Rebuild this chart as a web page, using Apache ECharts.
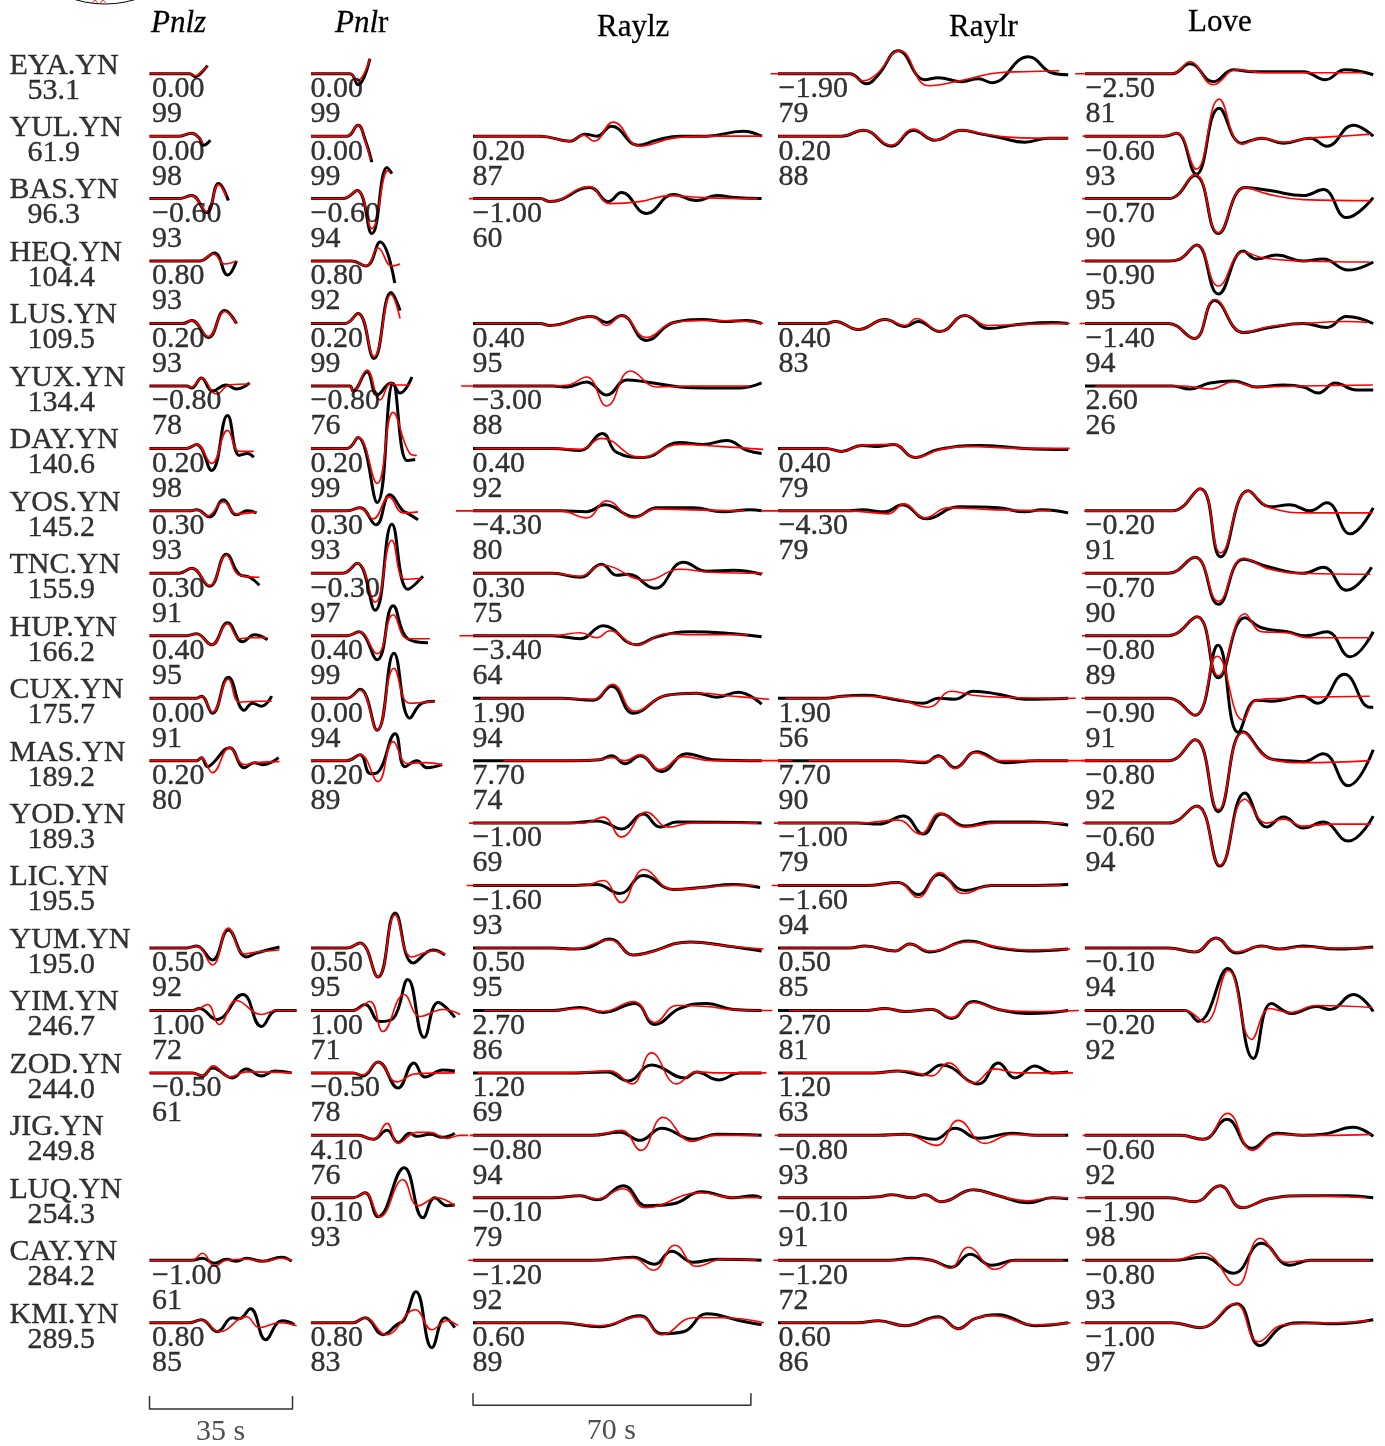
<!DOCTYPE html>
<html>
<head>
<meta charset="utf-8">
<script src="https://cdn.jsdelivr.net/npm/echarts@6/dist/echarts.min.js"></script>
<style>
  html, body { margin: 0; padding: 0; background: #fff; }
  #chart { width: 1385px; height: 1446px; }
</style>
</head>
<body>
<div id="chart"></div>
<script>
// ---- stations (epicentral distance, km) ----
const stations = ['EYA.YN','YUL.YN','BAS.YN','HEQ.YN','LUS.YN','YUX.YN','DAY.YN','YOS.YN','TNC.YN','HUP.YN',
  'CUX.YN','MAS.YN','YOD.YN','LIC.YN','YUM.YN','YIM.YN','ZOD.YN','JIG.YN','LUQ.YN','CAY.YN','KMI.YN'];
const distances = [53.1,61.9,96.3,104.4,109.5,134.4,140.6,145.2,155.9,166.2,175.7,189.2,189.3,195.5,195.0,246.7,244.0,249.8,254.3,284.2,289.5];

// ---- time shift (s) and cross-correlation (%) per component ----
const pnlzShift = [0.00,0.00,-0.60,0.80,0.20,-0.80,0.20,0.30,0.30,0.40,0.00,0.20,null,null,0.50,1.00,-0.50,null,null,-1.00,0.80];
const pnlzCorr  = [99,98,93,93,93,78,98,93,91,95,91,80,null,null,92,72,61,null,null,61,85];
const pnlrShift = [0.00,0.00,-0.60,0.80,0.20,-0.80,0.20,0.30,-0.30,0.40,0.00,0.20,null,null,0.50,1.00,-0.50,4.10,0.10,null,0.80];
const pnlrCorr  = [99,99,94,92,99,76,99,93,97,99,94,89,null,null,95,71,78,76,93,null,83];
const raylzShift = [null,0.20,-1.00,null,0.40,-3.00,0.40,-4.30,0.30,-3.40,1.90,7.70,-1.00,-1.60,0.50,2.70,1.20,-0.80,-0.10,-1.20,0.60];
const raylzCorr  = [null,87,60,null,95,88,92,80,75,64,94,74,69,93,95,86,69,94,79,92,89];
const raylrShift = [-1.90,0.20,null,null,0.40,null,0.40,-4.30,null,null,1.90,7.70,-1.00,-1.60,0.50,2.70,1.20,-0.80,-0.10,-1.20,0.60];
const raylrCorr  = [79,88,null,null,83,null,79,79,null,null,56,90,79,94,85,81,63,93,91,72,86];
const loveShift = [-2.50,-0.60,-0.70,-0.90,-1.40,2.60,null,-0.20,-0.70,-0.80,-0.90,-0.80,-0.60,null,-0.10,-0.20,null,-0.60,-1.90,-0.80,-1.00];
const loveCorr  = [81,93,90,95,94,26,null,91,90,89,91,92,94,null,94,92,null,92,98,93,97];

// ---- waveforms: [time s, amplitude] samples, observed (obs) and synthetic (syn) ----
const pnlzObs = [
  [[0,0],[9.8,0],[11.3,-3],[12.7,1],[14.2,8]],
  [[0,0],[7.3,0],[10.3,3],[12.2,-2],[13.2,-9],[14.9,-4]],
  [[0,0],[7.3,0],[10.3,3],[14.0,-14],[16.9,15],[19.3,-2]],
  [[0,0],[12.2,0],[15.9,8],[19.1,-14],[21.3,0]],
  [[0,0],[8.1,0],[10.3,3],[14.4,-14],[18.4,13],[21.3,0]],
  [[0,0],[9.1,0],[10.3,-2],[12.7,8],[15.4,-5],[18.8,1],[21.3,-3],[24.5,3]],
  [[0,0],[9.1,0],[11.5,4],[15.2,-22],[19.1,33],[22.0,-7],[24.0,-5],[25.5,-9]],
  [[0,0],[9.8,0],[11.5,1],[14.7,-6],[18.1,11],[21.3,-4],[24.0,0],[26.2,-2]],
  [[0,0],[7.3,0],[10.3,5],[14.7,-13],[18.8,19],[22.0,-1],[24.5,-4],[26.9,-12]],
  [[0,0],[9.1,0],[11.5,2],[15.2,-9],[19.1,13],[22.8,-6],[25.7,1],[28.9,-4]],
  [[0,0],[11.5,0],[12.7,2],[15.4,-15],[19.3,21],[23.2,-12],[25.2,-5],[27.4,-8],[29.9,2]],
  [[0,0],[11.5,0],[12.7,3],[14.2,-6],[15.4,-3],[19.6,13],[23.2,-7],[25.7,-2],[27.7,-4],[31.6,3]],
  null,
  null,
  [[0,0],[9.1,0],[11.5,2],[15.4,-12],[19.3,18],[23.7,-9],[26.2,-5],[31.8,1]],
  [[0,0],[10.5,0],[12.2,2],[16.4,-9],[22.8,16],[27.4,-16],[31.1,0],[36.0,0]],
  [[0,0],[10.5,0],[13.0,-3],[15.4,5],[20.3,-5],[23.7,4],[27.4,-3],[30.6,2],[34.8,0]],
  null,
  null,
  [[0,0],[10.3,0],[13.0,2],[15.9,-3],[18.8,1],[21.3,-1],[23.7,2],[27.7,-1],[32.3,3],[34.8,-1]],
  [[0,0],[9.8,0],[12.7,3],[16.6,-9],[20.3,5],[22.0,4],[24.7,14],[28.4,-17],[31.3,0],[32.5,2],[35.5,-2]]
];
const pnlzSyn = [
  [[0,0],[9.8,0],[11.3,-2],[12.7,2],[14.2,7]],
  [[0,0],[7.3,0],[10.3,3],[12.2,-2],[13.2,-8]],
  [[0,0],[7.3,0],[10.3,3],[14.0,-13],[16.9,14],[18.8,2]],
  [[0,0],[12.2,0],[15.6,7],[18.4,-3],[21.3,0]],
  [[0,0],[8.1,0],[10.3,3],[14.4,-13],[18.4,12],[21.3,0]],
  [[0,0],[9.1,0],[10.3,-1],[12.7,8],[16.4,-8],[19.6,1],[24.5,2]],
  [[0,0],[9.1,0],[11.5,4],[15.2,-15],[19.1,18],[22.0,-3],[25.5,-3]],
  [[0,0],[9.8,0],[11.5,1],[14.2,-5],[18.1,9],[21.3,-3],[26.2,-1]],
  [[0,0],[7.3,0],[10.3,5],[14.7,-12],[18.8,18],[22.0,-2],[26.9,-4]],
  [[0,0],[9.1,0],[11.5,2],[15.2,-9],[19.1,12],[22.0,-3],[24.5,-2],[28.9,-2]],
  [[0,0],[11.5,0],[12.7,2],[15.4,-14],[19.3,19],[22.0,-4],[26.0,-3],[29.9,-3]],
  [[0,0],[11.5,0],[12.7,3],[15.4,-12],[19.6,13],[23.2,-4],[26.0,-2],[31.8,-1]],
  null,
  null,
  [[0,0],[9.1,0],[11.5,2],[15.4,-17],[19.3,20],[23.2,-6],[26.2,-4],[31.8,-2]],
  [[0,0],[10.5,0],[12.2,2],[14.2,6],[17.1,-14],[21.3,10],[27.4,-4],[31.1,0],[36.0,0]],
  [[0,0],[10.5,0],[13.0,-3],[15.6,7],[19.6,-4],[23.7,1],[34.8,0]],
  null,
  null,
  [[0,0],[10.3,0],[13.0,7],[15.9,-6],[18.8,0],[23.7,1],[27.7,-1],[32.3,2],[34.8,0]],
  [[0,0],[9.8,0],[12.7,3],[17.1,-9],[23.7,6],[26.9,-5],[31.8,0],[36.0,-3]]
];

const pnlrObs = [
  [[0,0],[9.5,0],[11.5,-11],[14.4,15]],
  [[0,0],[8.8,0],[11.5,11],[13.2,-3],[14.9,-26]],
  [[0,0],[7.8,0],[11.3,8],[14.9,-35],[18.6,31],[19.8,25]],
  [[0,0],[10.0,0],[13.5,-5],[16.9,19],[20.5,-22]],
  [[0,0],[8.3,0],[11.5,10],[15.4,-35],[19.6,31],[21.8,13]],
  [[0,0],[9.5,0],[10.3,-5],[13.7,14],[16.2,-9],[19.6,3],[21.8,-7],[24.7,9]],
  [[0,0],[8.8,0],[11.5,11],[16.2,-54],[20.1,65],[23.5,-12],[25.5,-11]],
  [[0,0],[8.8,0],[12.0,3],[15.9,-14],[19.3,16],[22.5,0],[23.5,-2],[26.2,-9]],
  [[0,0],[7.8,0],[11.3,10],[15.7,-37],[19.8,49],[23.7,-16],[27.4,-3]],
  [[0,0],[8.8,0],[11.7,4],[16.2,-24],[20.1,30],[23.7,-3],[28.6,-7]],
  [[0,0],[8.8,0],[12.0,9],[16.2,-32],[20.3,45],[24.2,-20],[27.2,-5],[30.3,-3]],
  [[0,0],[8.8,0],[12.0,6],[14.5,-13],[16.2,-12],[20.6,27],[23.0,-6],[25.9,0],[28.4,-7],[32.1,-4]],
  null,
  null,
  [[0,0],[8.8,0],[12.0,5],[16.4,-29],[20.6,35],[25.0,-15],[29.9,-2],[32.8,-7]],
  [[0,0],[10.3,0],[13.2,6],[16.9,-11],[20.1,-8],[23.7,31],[27.7,-27],[31.1,8],[35.2,-7]],
  [[0,0],[10.3,0],[12.7,-3],[16.4,11],[21.3,-15],[25.2,10],[27.9,-4],[32.3,3],[35.2,2]],
  [[0,0],[11.5,0],[15.2,-4],[18.6,5],[21.3,-7],[24.2,2],[25.9,-1],[29.1,1],[32.3,-2],[35.2,2]],
  [[0,0],[10.3,0],[13.2,5],[16.4,-19],[22.8,30],[27.4,-20],[30.3,0],[33.3,-8],[35.2,-7]],
  null,
  [[0,0],[10.3,0],[13.2,5],[17.6,-12],[21.0,-2],[22.8,3],[25.7,31],[29.6,-25],[32.8,5],[35.2,-5]]
];
const pnlrSyn = [
  [[0,0],[9.5,0],[11.3,-7],[14.4,15]],
  [[0,0],[8.8,0],[11.5,11],[13.2,-4],[14.6,-24]],
  [[0,0],[7.8,0],[11.3,8],[14.9,-30],[18.8,28],[19.3,26]],
  [[0,0],[10.0,0],[13.5,-5],[16.4,13],[19.8,-5],[21.8,-3]],
  [[0,0],[8.3,0],[11.5,10],[15.4,-33],[19.6,29],[21.8,5]],
  [[0,0],[9.5,0],[10.3,-6],[13.7,16],[16.9,-14],[19.6,3],[20.5,1],[24.2,1]],
  [[0,0],[8.8,0],[11.5,11],[16.2,-35],[20.1,36],[24.2,-5],[25.9,-7]],
  [[0,0],[8.8,0],[12.0,3],[15.2,-8],[19.1,14],[22.5,-2],[26.2,-1]],
  [[0,0],[7.8,0],[11.3,10],[15.7,-29],[19.8,33],[23.0,-6],[27.2,-5]],
  [[0,0],[8.8,0],[11.7,4],[16.2,-18],[20.1,21],[23.7,-3],[29.1,-3]],
  [[0,0],[8.8,0],[12.0,8],[16.2,-32],[20.3,30],[24.2,-5],[30.3,-3]],
  [[0,0],[8.8,0],[12.0,6],[16.4,-21],[20.1,19],[23.7,-3],[28.0,-2],[32.1,-4]],
  null,
  null,
  [[0,0],[8.8,0],[12.0,5],[16.4,-29],[20.6,33],[24.7,-9],[29.9,-3],[32.8,-6]],
  [[0,0],[10.3,0],[14.4,9],[17.6,-21],[22.8,16],[26.7,-6],[32.3,1],[36.5,-4]],
  [[0,0],[10.3,0],[12.7,-2],[16.4,11],[21.0,-9],[25.5,-1],[35.2,0]],
  [[0,0],[11.5,0],[15.2,-4],[18.6,12],[21.3,-8],[25.9,3],[29.1,3],[33.3,-3],[36.5,0],[38.5,0]],
  [[0,0],[10.3,0],[13.2,5],[16.9,-19],[22.5,18],[26.2,-8],[30.8,0],[35.2,-8]],
  null,
  [[0,0],[10.3,0],[13.2,5],[18.4,-12],[25.5,13],[29.6,-7],[33.3,2],[36.0,-3]]
];

const raylzObs = [
  null,
  [[0,0],[16.9,0],[24.4,-5],[28.2,2],[31.2,0],[34.9,10],[41.6,-9],[46.3,-4],[52.1,0],[58.9,0],[68.1,5],[72.7,0]],
  [[0,0],[16.9,0],[19.4,-3],[29.5,11],[34.1,-3],[37.4,6],[43.7,-15],[50.5,4],[56.3,-2],[61.4,3],[66,1],[72.7,0]],
  null,
  [[0,0],[16.9,0],[19.4,-2],[29.9,7],[33.7,1],[37.4,8],[43.7,-17],[50.5,1],[58.0,4],[63.5,2],[68.9,3],[72.7,0]],
  [[0,0],[20,0],[23.6,-1],[28.6,4],[33.7,-9],[38.7,6],[43.7,4],[52.1,-1],[58.9,-2],[67.3,-2],[72.7,3]],
  [[0,0],[20,0],[27.0,-2],[32.6,15],[36.2,-4],[42.9,-9],[52.1,6],[58.0,4],[63.9,8],[69,-2],[72.7,-5]],
  [[0,0],[22,0],[28.6,-1],[33.2,6],[40.8,-6],[46.3,3],[55.5,3],[63,-1],[69.8,1],[72.7,0]],
  [[0,0],[20,0],[27.0,-4],[32.4,9],[36.2,-2],[39.1,-1],[45.8,-15],[53.0,11],[58.9,2],[65.6,3],[72.7,-1]],
  [[0,0],[20,0],[27.0,-3],[32.8,10],[41.2,-9],[46.3,-1],[54.7,4],[65.6,2],[72.7,-1]],
  [[0,0],[22,0],[30.3,-2],[34.9,12],[40.4,-15],[48.8,3],[56.3,5],[61.4,1],[66.8,6],[72.7,-6]],
  [[0,0],[25,0],[32,1],[34.9,5],[38.3,-3],[42.1,5],[47.5,-11],[53.8,7],[60.5,1],[72.7,0]],
  [[0,0],[24,0],[31.2,2],[33.7,0],[37.4,-6],[42.9,9],[47.1,-4],[51.3,1],[72.7,0]],
  [[0,0],[24,0],[31.2,1],[37.0,-8],[42.9,10],[50.5,-4],[57.2,-2],[65.6,1],[72.3,-2]],
  [[0,0],[20,0],[25.3,-1],[28.6,0],[34.5,9],[40.4,-7],[43.7,-5],[54.7,6],[63.9,2],[72.7,-3]],
  [[0,0],[20,0],[27.0,3],[32.8,-2],[40.8,7],[45.8,-14],[52.1,2],[58.9,7],[65.6,1],[72.7,0]],
  [[0,0],[24,0],[33.7,1],[39.1,-8],[45.0,8],[53.4,-5],[56.3,1],[61.8,-7],[67.3,0],[72.7,0]],
  [[0,0],[30,0],[37.0,3],[42.1,-5],[47.5,7],[55.5,-4],[61.4,1],[72.7,0]],
  [[0,0],[20,0],[27.0,2],[31.2,-2],[37.9,12],[43.7,-8],[50.5,-6],[57.6,6],[65.6,0],[70.6,2],[72.7,0]],
  [[0,0],[30,0],[40.4,3],[45.8,-4],[50.0,9],[55.5,-2],[61.4,1],[72.7,0]],
  [[0,0],[22,0],[32.0,-4],[42.1,7],[47.5,-11],[53,-9],[58.9,9],[67.3,2],[72.7,-2]]
];
const raylzSyn = [
  null,
  [[0.2,0],[16.9,0],[24.4,-5],[27.8,1],[30.5,-5],[35.3,14],[42.1,-10],[50.5,-2],[58.9,0],[72.9,0]],
  [[-1.0,0],[16.9,0],[19.4,-3],[29.2,12],[34.5,-5],[42.0,-3],[49.6,3],[58,1],[71.7,0]],
  null,
  [[0.4,0],[16.9,0],[19.4,-2],[29.9,7],[33.7,-2],[37.4,8],[43.7,-14],[50.5,1],[58.0,3],[68.9,2],[73.1,0]],
  [[-3.0,0],[20,0],[24,1],[28.6,9],[33.7,-20],[39.7,15],[46.3,-1],[55,0],[69.7,0]],
  [[0.4,0],[20,0],[27.0,-1],[32.4,10],[42.1,-9],[52.1,4],[62,2],[73.1,-1]],
  [[-4.3,0],[22,0],[28.6,-7],[33.7,10],[40.4,-7],[46.3,2],[55,1],[68.4,0]],
  [[0.3,0],[20,0],[27.0,-3],[32.4,8],[43.7,-7],[52.1,4],[60,1],[73.0,0]],
  [[-3.4,0],[20,0],[27.0,3],[31.2,-2],[34.5,5],[41.2,-9],[48.8,2],[55,1],[69.3,1]],
  [[1.9,0],[22,0],[30.3,-1],[35.1,14],[40.8,-13],[48.8,3],[57.1,5],[65.6,2],[74.6,-1]],
  [[7.7,0],[25,0],[32,1],[34.9,3],[38.3,0],[42.1,6],[47.1,-9],[53.0,4],[60,0],[80.4,0]],
  [[-1.0,0],[24,0],[28,0],[32.8,6],[37.4,-14],[43.7,11],[49.2,-4],[55,0],[71.7,0]],
  [[-1.6,0],[24,0],[28,0],[32.8,5],[37.3,-17],[43.1,16],[50.5,-4],[65.6,0],[71.1,0]],
  [[0.5,0],[20,0],[25.3,-1],[34.5,8],[40.4,-7],[44,-5],[54.7,6],[64,2],[73.2,-1]],
  [[2.7,0],[20,0],[27.0,2],[32.8,-1],[40.4,9],[45.8,-12],[51.3,5],[58.9,4],[65,1],[75.4,0]],
  [[1.2,0],[24,0],[34.5,2],[40.0,-11],[45.0,20],[51.3,-11],[56.3,1],[62,0],[73.9,0]],
  [[-0.8,0],[30,0],[37.4,5],[42.3,-15],[47.9,18],[55.1,-6],[61,0],[71.9,0]],
  [[-0.1,0],[20,0],[27.0,2],[31.2,-1],[37.9,9],[43.3,-10],[57.2,5],[65.6,0],[72.6,0]],
  [[-1.2,0],[30,0],[40.4,2],[45.4,-10],[50.9,15],[56.3,-6],[63,1],[71.5,0]],
  [[0.6,0],[22,0],[32.0,-3],[42.1,6],[47.5,-12],[55.5,5],[63,5],[73.3,0]]
];

const raylrObs = [
  [[0,0],[18,0],[22.3,-10],[25.3,-1],[30.3,23],[37.0,-6],[40.4,-4],[46.3,-8],[50.5,-5],[53.8,-9],[63.1,17],[68.9,1],[73.1,-1]],
  [[0,0],[16,0],[21.5,6],[28.6,-10],[34.1,6],[39.5,-4],[46.3,6],[51.3,2],[55.5,-1],[62.2,-6],[68.1,-2],[73.1,-2]],
  null,
  null,
  [[0,0],[12,0],[14.4,2],[20.2,-6],[27.0,4],[32.0,-3],[35.3,2],[40.8,-8],[47.1,8],[53.0,-5],[60.5,-1],[69,1],[73.1,0]],
  null,
  [[0,0],[12,0],[16.0,-3],[21.1,3],[25.3,2],[29.1,4],[34.5,-9],[40.4,-1],[50.5,3],[62,0],[73.1,-1]],
  [[0,0],[18,0],[21.1,1],[27.0,-1],[31.3,6],[37.4,-8],[45.4,4],[55.5,3],[62.2,-1],[66.4,1],[73.1,-2]],
  null,
  null,
  [[0,0],[12,0],[16.0,2],[22,3],[30.3,-2],[36.6,-5],[40.4,0],[44.6,-1],[49.2,7],[55.5,4],[62.2,-1],[73.1,0]],
  [[0,0],[30,0],[37.0,-2],[40.4,5],[44.6,-7],[50.0,9],[57.2,-2],[65,0],[73.1,0]],
  [[0,0],[20,0],[25.3,-1],[31.6,7],[36.6,-11],[41.2,9],[47.1,-3],[53.8,1],[63.9,1],[73.1,-2]],
  [[0,0],[22,0],[30.3,3],[35.3,-9],[40.6,11],[47.1,-5],[53.8,0],[62.2,0],[73.1,1]],
  [[0,0],[18,0],[21.9,2],[29.5,-3],[33.2,4],[38.3,-4],[47.9,7],[55.5,0],[63.1,-3],[73.1,-1]],
  [[0,0],[22,0],[27.0,2],[32.0,-1],[38.7,1],[43.7,-8],[49.2,9],[55.5,1],[63.9,-3],[73.1,0]],
  [[0,0],[24,0],[30.3,2],[36.2,-2],[41.2,8],[50.5,-11],[55.5,10],[59.7,-5],[64.7,7],[69,0],[73.1,1]],
  [[0,0],[25,0],[32,1],[39.5,-4],[44.6,7],[50.5,-3],[58.9,2],[65,0],[73.1,0]],
  [[0,0],[20,0],[25.3,1],[28.6,3],[33.7,0],[37.0,3],[41.2,-4],[49.2,8],[55.5,2],[63.1,-5],[69,0],[73.1,-1]],
  [[0,0],[28,0],[33.7,2],[38.7,0],[43.7,-7],[48.4,6],[53.8,-5],[59.7,0],[73.1,0]],
  [[0,0],[20,0],[25.3,2],[32.0,-3],[40.4,6],[45.4,-6],[49.6,4],[55.5,8],[64.7,-3],[73.1,0]]
];
const raylrSyn = [
  [[-1.9,0],[18,0],[21.1,-7],[24.4,-2],[30.7,23],[37.9,-12],[47,-6],[55.5,1],[62,2],[70.8,3]],
  [[0.2,0],[16,0],[21.5,6],[28.6,-9],[34.1,7],[39.5,-4],[46.3,6],[52,2],[58,-1],[65,-2],[73.1,-2]],
  null,
  null,
  [[0.4,0],[12,0],[14.4,2],[20.2,-6],[27.0,4],[32.0,-2],[34.9,5],[40.8,-8],[47.1,8],[53.0,-2],[60.5,-1],[73.5,0]],
  null,
  [[0.4,0],[12,0],[16.0,-3],[21.1,3],[29.1,4],[34.5,-9],[41,-1],[47,2],[62,0],[73.5,0]],
  [[-4.3,0],[18,0],[27.8,-3],[31.8,7],[36.9,-7],[42.9,3],[55,1],[68.8,0]],
  null,
  null,
  [[1.9,0],[12,0],[16,2],[22,2],[30.3,-1],[37.9,-9],[43.7,7],[49,3],[56,1],[75,0]],
  [[7.7,0],[30,0],[37.0,-1],[40.8,4],[44.6,-8],[49.6,8],[56,0],[80.8,0]],
  [[-1.0,0],[20,0],[30.3,3],[35.8,-11],[40.8,10],[47.1,-4],[55,0],[72.1,0]],
  [[-1.6,0],[22,0],[30.3,3],[35.3,-12],[40.8,13],[46.7,-8],[53.8,0],[71.5,0]],
  [[0.5,0],[18,0],[21.9,2],[29.5,-3],[33.2,4],[38.3,-3],[47.9,6],[55.5,1],[63.1,-2],[73.6,-1]],
  [[2.7,0],[22,0],[27.0,2],[32.0,-1],[38.7,1],[43.7,-7],[49.2,8],[55.5,1],[63.9,-1],[75.8,0]],
  [[1.2,0],[24,0],[32,2],[38.7,-3],[42.9,10],[49.2,-10],[54.7,4],[60,0],[74.3,0]],
  [[-0.8,0],[25,0],[32,1],[40.0,-10],[45.4,15],[52.1,-8],[58.9,1],[65,0],[72.3,0]],
  [[-0.1,0],[20,0],[25.3,1],[28.6,3],[33.7,0],[37.0,3],[41.2,-4],[49.2,8],[55.5,2],[63.1,-3],[69,0],[73,0]],
  [[-1.2,0],[28,0],[33.7,1],[38.7,0],[43.3,-8],[47.9,13],[54.7,-9],[60,0],[71.9,0]],
  [[0.6,0],[20,0],[25.3,2],[32.0,-3],[40.4,5],[45.4,-6],[49.6,4],[54,7],[64.7,-2],[73.7,0]]
];

const loveObs = [
  [[0,0],[22,0],[26.4,10],[32.3,-8],[37.4,4],[42.4,2],[55,2],[60.5,-6],[65.5,4],[72.6,-1]],
  [[0,0],[20,0],[23.1,3],[28.0,-38],[33.8,28],[39.5,-7],[44.5,-2],[50.0,-7],[56.7,-2],[60.9,-10],[67.6,11],[72.6,0]],
  [[0,0],[21,0],[27.7,23],[33.6,-35],[40.3,11],[46.6,8],[55,3],[60.0,9],[65.9,-19],[72.6,1]],
  [[0,0],[21,0],[23.9,2],[28.1,16],[33.6,-33],[39.9,10],[43.2,2],[48.3,6],[55,0],[60.0,2],[66.3,-9],[72.6,-1]],
  [[0,0],[21,0],[27.5,-15],[32.7,23],[39.9,-9],[46.6,-4],[55,0],[60.9,-4],[65.9,7],[72.6,0]],
  [[0,0],[22,0],[26.4,-3],[31.5,3],[37.4,5],[43.2,-1],[50,1],[55,-1],[58.8,-7],[63.0,3],[68.4,-4],[72.6,-4]],
  null,
  [[0,0],[22,0],[29.0,22],[34.2,-46],[41.1,20],[46.6,4],[51.6,6],[56.7,0],[60.9,8],[66.8,-23],[72.6,3]],
  [[0,0],[21,0],[27.7,16],[33.6,-31],[39.9,14],[46.6,6],[55,0],[60.0,6],[65.9,-17],[72.2,6]],
  [[0,0],[21,0],[28.2,19],[33.6,-42],[40.3,18],[44.5,8],[50.9,4],[55.7,0],[60.9,4],[66.8,-21],[72.6,4]],
  [[0,0],[21,0],[27.7,-17],[33.5,53],[38.6,-34],[43.2,-2],[47,-3],[50.5,-1],[54.7,2],[58.6,-5],[65.3,24],[71.8,-9],[72.6,-9]],
  [[0,0],[21,0],[27.7,21],[33.6,-51],[39.9,29],[46.6,2],[50.5,0],[55,-1],[60.0,7],[66.3,-25],[72.6,11]],
  [[0,0],[21,0],[28.1,17],[34.0,-43],[40.3,30],[45.8,-4],[50.0,6],[55.0,-5],[60.0,1],[66.3,-18],[72.6,7]],
  null,
  [[0,0],[21,0],[27.7,-4],[33.0,10],[38.2,-5],[44.5,2],[49,-1],[55,2],[63.4,-1],[72.6,1]],
  [[0,0],[20,0],[25.2,0],[28.5,-11],[35.9,42],[42.4,-48],[47.0,7],[52.1,-3],[58.3,4],[61.7,1],[67.6,16],[72.6,-1]],
  null,
  [[0,0],[24,0],[29.8,-4],[35.7,16],[42.0,-13],[48.3,2],[55,0],[60,1],[67.6,8],[72.6,-1]],
  [[0,0],[21,0],[27.7,-4],[34.0,12],[39.5,-10],[46.3,-1],[55,2],[66,2],[72.6,0]],
  [[0,0],[22,0],[29.8,3],[37.4,-13],[44.5,17],[51.6,-5],[56.7,0],[72.6,0]],
  [[0,0],[22,0],[29.0,-5],[38.2,19],[44.1,-23],[50.0,-3],[55,0],[63,-1],[72.6,3]]
];
const loveSyn = [
  [[-2.5,0],[22,0],[26.4,12],[32.3,-11],[38.2,4],[45,1],[60,1],[70.1,1]],
  [[-0.6,0],[20,0],[23.1,3],[28.0,-33],[33.8,37],[39.5,-8],[44.5,-2],[50.0,-6],[56.7,-2],[65,0],[72,2]],
  [[-0.7,0],[21,0],[27.7,24],[33.6,-34],[40.3,11],[46.6,4],[55,-1],[71.9,-2]],
  [[-0.9,0],[21,0],[23.9,2],[28.1,16],[33.6,-25],[39.9,9],[45,3],[55,0],[71.7,-1]],
  [[-1.4,0],[21,0],[27.5,-15],[32.7,24],[39.9,-9],[46.6,-3],[55,0],[65.9,2],[71.2,1]],
  [[2.6,0],[25,0],[31.5,-3],[37.4,4],[43.2,-1],[55,0],[72.5,1]],
  null,
  [[-0.2,0],[22,0],[29.0,22],[34.2,-42],[41.1,20],[46.6,3],[56.7,-2],[72.4,-2]],
  [[-0.7,0],[21,0],[27.7,16],[33.6,-28],[39.9,15],[46.6,4],[55,0],[71.9,-1]],
  [[-0.8,0],[21,0],[28.2,19],[33.6,-40],[40.3,22],[44.5,4],[50.9,3],[55.7,-2],[71.8,-2]],
  [[-0.9,0],[21,0],[27.7,-17],[33.3,42],[39.8,-22],[43.2,-2],[50,0],[54.7,1],[71.7,2]],
  [[-0.8,0],[21,0],[27.7,21],[33.6,-49],[39.9,28],[46.6,2],[55,-2],[71.8,0]],
  [[-0.6,0],[21,0],[28.1,17],[34.0,-42],[40.3,24],[45.8,0],[50.0,4],[55.0,-3],[62,-1],[72,-1]],
  null,
  [[-0.1,0],[21,0],[27.7,-4],[33.0,10],[38.2,-4],[44.5,2],[49,-1],[55,1],[63.4,0],[72.5,0]],
  [[-0.2,0],[20,0],[25.2,0],[30.2,-12],[36.1,40],[42.0,-29],[46.6,2],[51.6,-2],[58.3,5],[72.4,3]],
  null,
  [[-0.6,0],[24,0],[29.8,-4],[35.9,22],[42.2,-15],[48.3,1],[60,0],[72,1]],
  [[-1.9,0],[21,0],[27.7,-4],[34.0,12],[39.5,-10],[46.3,-1],[55,2],[66,1],[70.7,0]],
  [[-0.8,0],[22,0],[29.8,7],[38.2,-25],[44.1,22],[50.8,-2],[56.7,0],[71.8,0]],
  [[-1.0,0],[22,0],[29.0,-5],[37.8,19],[43.7,-19],[50.0,-2],[63,0],[71.6,2]]
];

// ---- scale bars (s) ----
const pnlScaleBar = 35;
const surfScaleBar = 70;

// ---- layout ----
const W = 1385, H = 1446;
const FONT = '"Liberation Serif", "Times New Roman", Times, serif';
const FS = 30;                 // label font size
const rowGap = 62.45;          // amplitude units between station baselines
const yTop = 73.7;             // amplitude value at the top edge of the canvas
const columns = [
  { name: 'Pnlz',  x0: 149.5, pps: 4.086, tMin: -10, tMax: 50, obs: pnlzObs,  syn: pnlzSyn,  shift: pnlzShift,  corr: pnlzCorr,  ldx: 3 },
  { name: 'Pnlr',  x0: 311,   pps: 4.086, tMin: -10, tMax: 50, obs: pnlrObs,  syn: pnlrSyn,  shift: pnlrShift,  corr: pnlrCorr,  ldx: 0 },
  { name: 'Raylz', x0: 473,   pps: 3.97,  tMin: -10, tMax: 85, obs: raylzObs, syn: raylzSyn, shift: raylzShift, corr: raylzCorr, ldx: 0 },
  { name: 'Raylr', x0: 778,   pps: 3.97,  tMin: -10, tMax: 85, obs: raylrObs, syn: raylrSyn, shift: raylrShift, corr: raylrCorr, ldx: 1 },
  { name: 'Love',  x0: 1085,  pps: 3.97,  tMin: -4,  tMax: 75, obs: loveObs,  syn: loveSyn,  shift: loveShift,  corr: loveCorr,  ldx: 1 }
];

const fmtShift = v => (v < 0 ? '\u2212' : '') + Math.abs(v).toFixed(2);
const txt = { fontFamily: FONT, fontSize: FS, lineHeight: 25, color: '#000', textBorderColor: '#000', textBorderWidth: 0.35 };

const grids = [], xAxes = [], yAxes = [], series = [];
columns.forEach((c, ci) => {
  grids.push({ left: c.x0 + c.tMin * c.pps, top: 0, width: (c.tMax - c.tMin) * c.pps, height: H });
  xAxes.push({ type: 'value', gridIndex: ci, min: c.tMin, max: c.tMax, show: false });
  yAxes.push({ type: 'value', gridIndex: ci, min: yTop - H, max: yTop, show: false });

  const place = (pts, i) => pts.map(([t, a]) => [t, a - i * rowGap]);
  stations.forEach((s, i) => {
    if (c.obs[i]) series.push({
      type: 'line', xAxisIndex: ci, yAxisIndex: ci, data: place(c.obs[i], i),
      smooth: 0.45, symbol: 'none', clip: false, silent: true, z: 2,
      lineStyle: { color: '#000', width: 3 }
    });
    if (c.syn[i]) series.push({
      type: 'line', xAxisIndex: ci, yAxisIndex: ci, data: place(c.syn[i], i),
      smooth: 0.45, symbol: 'none', clip: false, silent: true, z: 3,
      lineStyle: { color: '#ff0000', width: 1.6 }
    });
  });

  // time shift / correlation under each trace
  const labelData = [];
  stations.forEach((s, i) => {
    if (c.shift[i] !== null) labelData.push({
      value: [0, -i * rowGap],
      label: { formatter: fmtShift(c.shift[i]) + '\n' + c.corr[i] }
    });
  });
  series.push({
    type: 'scatter', xAxisIndex: ci, yAxisIndex: ci, data: labelData, symbolSize: 1, silent: true, z: 4,
    itemStyle: { color: 'rgba(0,0,0,0)' },
    label: Object.assign({ show: true, position: [c.ldx, 3.5], align: 'left', verticalAlign: 'top' }, txt)
  });
});

// station names and distances
const si = columns.length;
grids.push({ left: 0, top: 0, width: 140, height: H });
xAxes.push({ type: 'value', gridIndex: si, min: 0, max: 140, show: false });
yAxes.push({ type: 'value', gridIndex: si, min: yTop - H, max: yTop, show: false });
series.push({
  type: 'scatter', xAxisIndex: si, yAxisIndex: si, symbolSize: 1, silent: true,
  itemStyle: { color: 'rgba(0,0,0,0)' },
  data: stations.map((s, i) => ({ value: [0, -i * rowGap], name: s, dist: distances[i] })),
  label: Object.assign({
    show: true, position: [10, -20], align: 'left', verticalAlign: 'top',
    formatter: p => '{n|' + p.data.name + '}\n{d|' + p.data.dist.toFixed(1) + '}',
    rich: {
      n: Object.assign({}, txt),
      d: Object.assign({ padding: [0, 0, 0, 18] }, txt)
    }
  }, txt)
});

// scale bars below the Pnl and surface-wave columns
function scaleBar(ci, len, row, tick, gap) {
  const y = -row * rowGap;
  series.push({
    type: 'line', xAxisIndex: ci, yAxisIndex: ci, symbol: 'none', silent: true, clip: false,
    data: [[0, y + tick], [0, y], [len, y], [len, y + tick]],
    lineStyle: { color: '#333', width: 1.5 }
  });
  series.push({
    type: 'scatter', xAxisIndex: ci, yAxisIndex: ci, symbolSize: 1, silent: true,
    itemStyle: { color: 'rgba(0,0,0,0)' },
    data: [[len / 2, y]],
    label: { show: true, position: [0, gap], align: 'center', verticalAlign: 'top',
      fontFamily: FONT, fontSize: FS, lineHeight: 26, color: '#222', formatter: len + ' s' }
  });
}
scaleBar(0, pnlScaleBar, 21.38, 13, 11);
scaleBar(2, surfScaleBar, 21.32, 12, 13);

// column headers
const hdr = { fontFamily: FONT, fontSize: 31, color: '#000', fontWeight: 'normal', lineHeight: 32,
  textBorderColor: '#000', textBorderWidth: 0.3 };
const titles = [
  { text: '{i|Pnlz}', left: 151, top: 8 },
  { text: '{i|Pnl}{u|r}', left: 335, top: 8 },
  { text: '{u|Raylz}', left: 597, top: 12 },
  { text: '{u|Raylr}', left: 949, top: 12 },
  { text: '{u|Love}', left: 1188, top: 7 }
].map(t => Object.assign(t, {
  padding: 0,
  textStyle: { rich: { i: Object.assign({ fontStyle: 'italic' }, hdr), u: Object.assign({}, hdr) } }
}));

const chart = echarts.init(document.getElementById('chart'), null, { renderer: 'canvas', width: W, height: H });
chart.setOption({
  backgroundColor: '#fff',
  animation: false,
  title: titles,
  grid: grids,
  xAxis: xAxes,
  yAxis: yAxes,
  series: series,
  graphic: [
    // edge of the focal mechanism ball at the top-left corner
    { type: 'circle', shape: { cx: 105, cy: -100, r: 104 }, style: { fill: 'none', stroke: '#000', lineWidth: 1 }, silent: true },
    { type: 'text', left: 91, top: -6, style: { text: '\u00d7\u00d7', font: '14px ' + FONT, fill: '#ff0000' }, silent: true }
  ]
});
</script>
</body>
</html>
